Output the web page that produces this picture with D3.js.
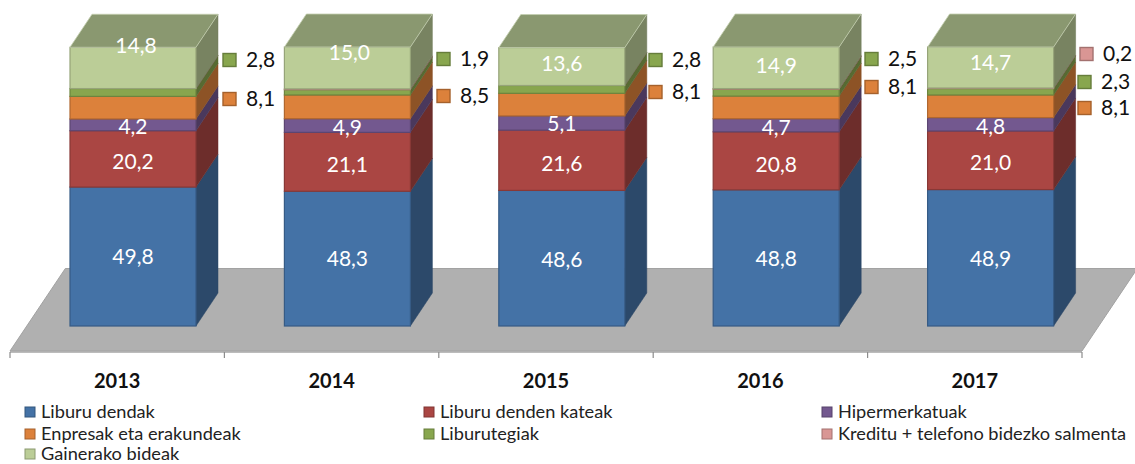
<!DOCTYPE html>
<html>
<head>
<meta charset="utf-8">
<script src="https://cdn.jsdelivr.net/npm/d3@7"></script>
<style>
  html, body { margin: 0; padding: 0; background: #fff; }
  svg { display: block; font-family: Lato, "Open Sans", sans-serif; }
</style>
</head>
<body>
<div id="chart"></div>
<script>
// values (percent)
const years = ["2013", "2014", "2015", "2016", "2017"];
const liburuDendak = [49.8, 48.3, 48.6, 48.8, 48.9];
const dendenKateak = [20.2, 21.1, 21.6, 20.8, 21.0];
const hipermerkatuak = [4.2, 4.9, 5.1, 4.7, 4.8];
const enpresak = [8.1, 8.5, 8.1, 8.1, 8.1];
const liburutegiak = [2.8, 1.9, 2.8, 2.5, 2.3];
const kreditu = [0.0, 0.3, 0.0, 0.2, 0.2];
const gainerakoak = [14.8, 15.0, 13.6, 14.9, 14.7];

const seriesNames = ["Liburu dendak", "Liburu denden kateak", "Hipermerkatuak",
  "Enpresak eta erakundeak", "Liburutegiak", "Kreditu + telefono bidezko salmenta", "Gainerako bideak"];
const seriesValues = [liburuDendak, dendenKateak, hipermerkatuak, enpresak, liburutegiak, kreditu, gainerakoak];
const seriesColors = ["#4472a6", "#aa4643", "#73588f", "#dc813b", "#88a64e", "#d99694", "#bbcd97"];

// layout
const W = 1135, H = 464;
const depthX = 22, depthY = -33;
const floorBack = 268.5;
const barOffset = 60, barWidth = 126;

// hand placed labels, the original chart had them dragged around
const insideSeries = [0, 1, 2, 6];
const insideNudge = {
  0: [0, 0, 1, 1, 1],
  1: [3, 3, 3, 4, 2],
  2: [2, 2, 1, 2, 2],
  6: [-22, -15, -3, -2, -5]
};
const insideDx = { 6: [3, 2, 0, 0, 0] };
const sideLabels = [
  { series: 3, x: [223, 437, 649, 865, 1078], y: [99, 96, 92, 87, 108] },
  { series: 4, x: [223, 437, 649, 865, 1078], y: [60, 59, 60, 59, 82] },
  { series: 5, x: [null, null, null, null, 1080], y: [null, null, null, null, 54] }
];
const legendCols = [25, 424, 822];
const legendRows = [412, 434, 454];

const fmt = v => v.toFixed(1).replace(".", ",");

const svg = d3.select("#chart").append("svg").attr("width", W).attr("height", H);

const x = d3.scaleBand().domain(years).range([10, 1082]);
const y = d3.scaleLinear().domain([0, 100]).range([326, 47]);

// floor
const floorDx = (floorBack - y(0) - 25.5) / depthY * depthX;
svg.append("path")
  .attr("d", d3.line()([[10, 351], [10 + floorDx, floorBack], [1082 + floorDx, floorBack], [1082, 351]]) + "Z")
  .attr("fill", "#b0b0b0")
  .attr("stroke", "#a2a2a2");

// axis line and ticks between the categories
const axisY = 352;
svg.append("line").attr("x1", 10).attr("x2", 1082).attr("y1", axisY).attr("y2", axisY)
  .attr("stroke", "#a6a6a6").attr("stroke-width", 1.5);
const tickXs = years.map(d => x(d)).concat([x.range()[1]]);
svg.selectAll(".tick").data(tickXs).join("line")
  .attr("class", "tick")
  .attr("x1", d => d).attr("x2", d => d)
  .attr("y1", axisY).attr("y2", axisY + 6)
  .attr("stroke", "#8c8c8c").attr("stroke-width", 1.2);

svg.selectAll(".year").data(years).join("text")
  .attr("class", "year")
  .attr("x", d => x(d) + x.bandwidth() / 2)
  .attr("y", 388)
  .attr("text-anchor", "middle")
  .attr("font-size", 20)
  .attr("font-weight", 700)
  .attr("fill", "#111")
  .text(d => d);

function shade(c, k) {
  const r = d3.rgb(c);
  return d3.rgb(r.r * k, r.g * k, r.b * k).formatHex();
}

// bars
const stacked = seriesValues.map(() => []);
years.forEach((yr, i) => {
  let cum = 0;
  seriesValues.forEach((vals, s) => {
    stacked[s][i] = [cum, cum + vals[i]];
    cum += vals[i];
  });
});

years.forEach((yr, i) => {
  const g = svg.append("g");
  const x0 = x(yr) + barOffset, x1 = x0 + barWidth;

  seriesValues.forEach((vals, s) => {
    const yb = y(stacked[s][i][0]), yt = y(stacked[s][i][1]);
    const color = seriesColors[s];
    // side face
    g.append("path")
      .attr("d", d3.line()([[x1, yb], [x1 + depthX, yb + depthY], [x1 + depthX, yt + depthY], [x1, yt]]) + "Z")
      .attr("fill", shade(color, 0.64))
      .attr("stroke", shade(color, 0.6))
      .attr("stroke-width", 0.5);
    // front face
    g.append("rect")
      .attr("x", x0).attr("y", yt)
      .attr("width", barWidth).attr("height", yb - yt)
      .attr("fill", color)
      .attr("stroke", shade(color, 0.8))
      .attr("stroke-width", 1.2);
  });

  // top face of the last series
  const topS = seriesValues.length - 1;
  const yTop = y(stacked[topS][i][1]);
  g.append("path")
    .attr("d", d3.line()([[x0, yTop], [x0 + depthX, yTop + depthY], [x1 + depthX, yTop + depthY], [x1, yTop]]) + "Z")
    .attr("fill", shade(seriesColors[topS], 0.74))
    .attr("stroke", "#c4cfb0")
    .attr("stroke-width", 0.8);
});

// white labels inside the bars
insideSeries.forEach(s => {
  years.forEach((yr, i) => {
    const mid = (stacked[s][i][0] + stacked[s][i][1]) / 2;
    svg.append("text")
      .attr("x", x(yr) + barOffset + barWidth / 2 + (insideDx[s] ? insideDx[s][i] : 0))
      .attr("y", y(mid) + insideNudge[s][i])
      .attr("dy", "0.35em")
      .attr("text-anchor", "middle")
      .attr("font-size", 21)
      .attr("fill", "#fff")
      .text(fmt(seriesValues[s][i]));
  });
});

// labels beside the bars, with the legend key
sideLabels.forEach(d => {
  years.forEach((yr, i) => {
    if (d.x[i] === null) return;
    svg.append("rect")
      .attr("x", d.x[i]).attr("y", d.y[i] - 6.5)
      .attr("width", 13).attr("height", 13)
      .attr("fill", seriesColors[d.series])
      .attr("stroke", shade(seriesColors[d.series], 0.75))
      .attr("stroke-width", 1.4);
    svg.append("text")
      .attr("x", d.x[i] + 23)
      .attr("y", d.y[i])
      .attr("dy", "0.35em")
      .attr("font-size", 21)
      .attr("fill", "#111")
      .text(fmt(seriesValues[d.series][i]));
  });
});

// legend
seriesNames.forEach((name, s) => {
  const lx = legendCols[s % 3], ly = legendRows[Math.floor(s / 3)];
  svg.append("rect")
    .attr("x", lx).attr("y", ly - 5)
    .attr("width", 10).attr("height", 10)
    .attr("fill", seriesColors[s])
    .attr("stroke", shade(seriesColors[s], 0.75));
  svg.append("text")
    .attr("x", lx + 16).attr("y", ly)
    .attr("dy", "0.35em")
    .attr("font-size", 18.2)
    .attr("fill", "#222")
    .text(name);
});
</script>
</body>
</html>
